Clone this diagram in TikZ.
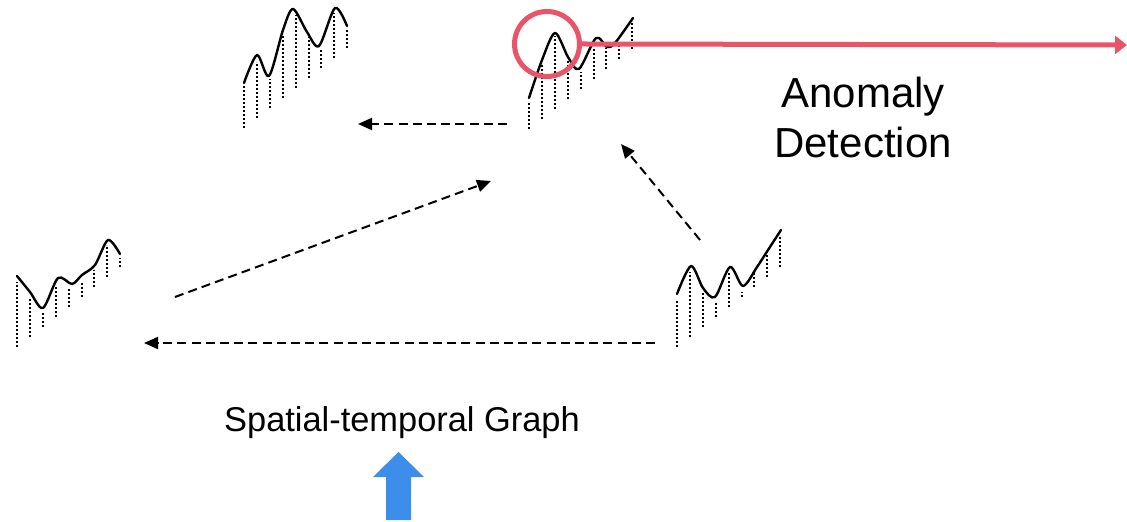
\documentclass[tikz,border=0pt]{standalone}
\usepackage{fontspec}
\setmainfont{Liberation Sans}
\usepackage{xcolor}
\usepackage{tikz}
\usetikzlibrary{arrows.meta}

\definecolor{alertred}{RGB}{234,84,104}
\definecolor{inputblue}{RGB}{61,142,234}

\begin{document}
\begin{tikzpicture}[x=0.5pt, y=-0.5pt]

\tikzstyle{series} = [line width=1.2pt, line join=round, line cap=round]
\tikzstyle{drop} = [line width=1pt, dash pattern=on 1.1pt off 0.9pt]
\tikzstyle{flow} = [line width=1pt, dash pattern=on 4.5pt off 2.6pt, -{Triangle[length=7pt,width=6pt]}]

\useasboundingbox (0,0) rectangle (1127,522);

% top left series
\draw [series] plot [smooth] coordinates {(244,83) (257,55) (269,76) (283,30) (293,9) (307,32) (319,46) (335,8) (347,26)};
\foreach \i/\t in {0/86,1/62,2/79,3/34,4/15,5/37,6/49,7/13,8/30}
  \draw [drop] (244+12.9*\i, 128-10*\i) -- (244+12.9*\i, \t);

% top middle series
\draw [series] plot [smooth] coordinates {(529,98) (542,60) (555,33) (568,57) (579,69) (596,38) (607,47) (615,43) (633,18)};
\foreach \i/\t in {0/103,1/63,2/36,3/60,4/72,5/48,6/48,7/43,8/21}
  \draw [drop] (529+12.9*\i, 129-10*\i) -- (529+12.9*\i, \t);

% left series
\draw [series] plot [smooth] coordinates {(17,276) (30,292) (43,308) (58,278) (72,284) (82,275) (95,265) (108,240) (120,254)};
\foreach \i/\t in {0/282,1/298,2/312,3/285,4/288,5/282,6/270,7/245,8/258}
  \draw [drop] (17+12.9*\i, 347-10*\i) -- (17+12.9*\i, \t);

% right series
\draw [series] plot [smooth] coordinates {(677,294) (691,266) (703,288) (715,297) (730,267) (743,286) (757,267) (768,250) (781,230)};
\foreach \i/\t in {0/300,1/272,2/292,3/302,4/272,5/292,6/273,7/252,8/235}
  \draw [drop] (677+12.9*\i, 347-10*\i) -- (677+12.9*\i, \t);

% message passing
\coordinate (midout) at (507,124);
\coordinate (leftin) at (358,124);
\coordinate (lowout) at (175,297);
\coordinate (midin) at (491,181);
\coordinate (rightout) at (700,240);
\coordinate (rightin) at (621,144);
\coordinate (bottomout) at (655,343);
\coordinate (bottomin) at (144,343);

\draw [flow] (midout) -- (leftin);
\draw [flow] (lowout) -- (midin);
\draw [flow] (rightout) -- (rightin);
\draw [flow] (bottomout) -- (bottomin);

% anomaly
\node (peak) [circle, draw=alertred, line width=2.5pt, minimum size=32.5pt, inner sep=0pt] at (547,44) {};
\coordinate (alarm) at (1127,45);
\draw [alertred, line width=2.5pt, -{Triangle[length=6pt,width=9pt]}] (peak.east) -- (alarm);

\node (detect) [align=center, font=\fontsize{21}{25}\selectfont] at (863,117) {Anomaly\\Detection};
\node (graph) [anchor=base, font=\fontsize{17.2}{20}\selectfont] at (402,432) {Spatial-temporal Graph};

% input arrow
\fill [inputblue] (386,520) -- (386,477) -- (373,477) -- (398.5,452) -- (424,477) -- (411,477) -- (411,520) -- cycle;

\end{tikzpicture}
\end{document}
